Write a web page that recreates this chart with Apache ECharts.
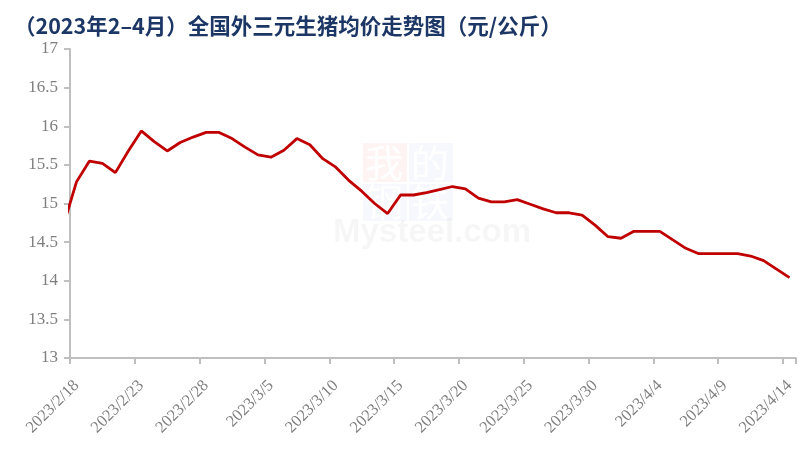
<!DOCTYPE html>
<html>
<head>
<meta charset="utf-8">
<script src="https://cdn.jsdelivr.net/npm/echarts@6/dist/echarts.min.js"></script>
<style>
html,body{margin:0;padding:0;background:#fff;}
#main{width:810px;height:460px;}
</style>
</head>
<body>
<div id="main"></div>
<script>
// categories: 2023/2/17 (only partly visible, clipped at the axis) .. 2023/4/14
var dates = [
  '2023/2/17','2023/2/18','2023/2/19','2023/2/20','2023/2/21','2023/2/22','2023/2/23','2023/2/24','2023/2/25','2023/2/26','2023/2/27','2023/2/28',
  '2023/3/1','2023/3/2','2023/3/3','2023/3/4','2023/3/5','2023/3/6','2023/3/7','2023/3/8','2023/3/9','2023/3/10',
  '2023/3/11','2023/3/12','2023/3/13','2023/3/14','2023/3/15','2023/3/16','2023/3/17','2023/3/18','2023/3/19','2023/3/20',
  '2023/3/21','2023/3/22','2023/3/23','2023/3/24','2023/3/25','2023/3/26','2023/3/27','2023/3/28','2023/3/29','2023/3/30','2023/3/31',
  '2023/4/1','2023/4/2','2023/4/3','2023/4/4','2023/4/5','2023/4/6','2023/4/7','2023/4/8','2023/4/9','2023/4/10','2023/4/11','2023/4/12','2023/4/13','2023/4/14'
];
var prices = [
  14.72,
  15.28, 15.55, 15.52, 15.40, 15.68, 15.94, 15.80, 15.68, 15.79, 15.86, 15.92,
  15.92, 15.84, 15.73, 15.63, 15.60, 15.69, 15.84, 15.76, 15.58, 15.47,
  15.30, 15.16, 15.00, 14.87, 15.11, 15.11, 15.14, 15.18, 15.22, 15.19,
  15.07, 15.02, 15.02, 15.05, 14.99, 14.93, 14.88, 14.88, 14.85, 14.72, 14.57,
  14.55, 14.64, 14.64, 14.64, 14.53, 14.42, 14.35, 14.35, 14.35, 14.35, 14.32, 14.26, 14.15, 14.04
];
var titleText = '（2023年2–4月）全国外三元生猪均价走势图（元/公斤）';
var yMin = 13, yMax = 17, yStep = 0.5;
var firstShown = 1, labelEvery = 5;

var chart = echarts.init(document.getElementById('main'), null, {renderer: 'canvas'});
var axisGray = '#bfbfbf';
var labelGray = '#7f7f7f';
var serif = '"Liberation Serif", "DejaVu Serif", serif';
var cjk = '"Noto Sans CJK SC", sans-serif';
function showIdx(i) { return i >= firstShown && (i - firstShown) % labelEvery === 0; }

chart.setOption({
  animation: false,
  backgroundColor: '#ffffff',
  title: {
    text: titleText,
    left: 9,
    top: 10,
    textStyle: {fontFamily: cjk, fontSize: 21.5, fontWeight: 'bold', color: '#1c3765'}
  },
  graphic: [
    {type: 'rect', z: 0, silent: true, shape: {x: 363, y: 143, width: 44, height: 39}, style: {fill: 'rgba(230,60,60,0.06)'}},
    {type: 'rect', z: 0, silent: true, shape: {x: 409, y: 143, width: 44, height: 39}, style: {fill: 'rgba(60,90,200,0.045)'}},
    {type: 'rect', z: 0, silent: true, shape: {x: 363, y: 184, width: 44, height: 37}, style: {fill: 'rgba(60,90,200,0.045)'}},
    {type: 'rect', z: 0, silent: true, shape: {x: 409, y: 184, width: 44, height: 37}, style: {fill: 'rgba(60,90,200,0.045)'}},
    {type: 'text', z: 0, silent: true, left: 365, top: 144, style: {text: '我', fontSize: 38, fontFamily: cjk, fill: '#ffffff'}},
    {type: 'text', z: 0, silent: true, left: 411, top: 144, style: {text: '的', fontSize: 38, fontFamily: cjk, fill: '#ffffff'}},
    {type: 'text', z: 0, silent: true, left: 365, top: 183, style: {text: '钢', fontSize: 38, fontFamily: cjk, fill: '#ffffff'}},
    {type: 'text', z: 0, silent: true, left: 411, top: 183, style: {text: '铁', fontSize: 38, fontFamily: cjk, fill: '#ffffff'}},
    {type: 'text', z: 0, silent: true, left: 333, top: 216, style: {text: 'Mysteel.com', fontSize: 33, fontWeight: 'bold', fontFamily: '"Liberation Sans", sans-serif', fill: 'rgba(0,0,0,0.035)'}}
  ],
  grid: {left: 70, right: 14, top: 49, bottom: 102, containLabel: false},
  xAxis: {
    type: 'category',
    data: dates,
    min: firstShown,
    boundaryGap: true,
    axisLine: {lineStyle: {color: axisGray, width: 2}},
    axisTick: {show: true, interval: function (i) { return showIdx(i); }, length: 6, lineStyle: {color: axisGray, width: 2}},
    axisLabel: {
      interval: function (i) { return showIdx(i); },
      rotate: 45,
      margin: 25,
      color: labelGray,
      fontFamily: serif,
      fontSize: 16.5
    },
    splitLine: {show: false}
  },
  yAxis: {
    type: 'value',
    min: yMin,
    max: yMax,
    interval: yStep,
    axisLine: {show: true, lineStyle: {color: axisGray, width: 2}},
    axisTick: {show: true, length: 6, lineStyle: {color: axisGray, width: 2}},
    axisLabel: {color: labelGray, fontFamily: serif, fontSize: 17, margin: 12},
    splitLine: {show: false}
  },
  series: [{
    type: 'line',
    data: prices,
    symbol: 'none',
    clip: true,
    z: 3,
    lineStyle: {color: '#c00000', width: 2.8},
    itemStyle: {color: '#c00000'}
  }]
});
</script>
</body>
</html>
